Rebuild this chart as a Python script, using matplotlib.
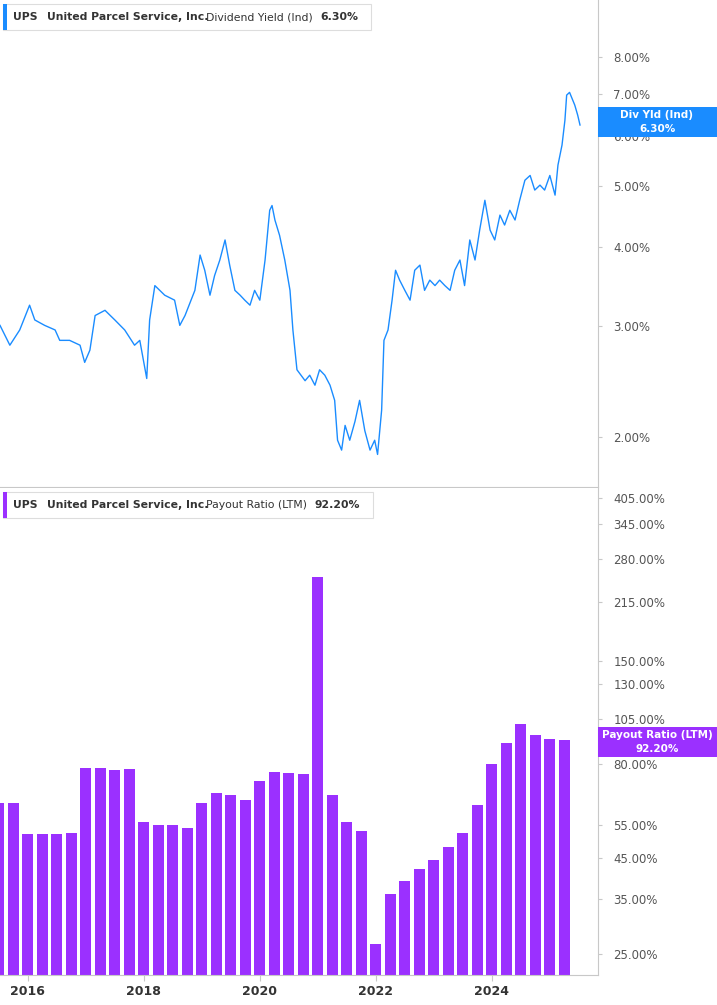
import matplotlib
matplotlib.use("Agg")
import matplotlib.pyplot as plt
from matplotlib.patches import Rectangle
from matplotlib.ticker import FixedLocator, NullLocator, NullFormatter

# dividend yield (%)
yield_years = [2015.52, 2015.69, 2015.86, 2016.03, 2016.12, 2016.29, 2016.47, 2016.55, 2016.72, 2016.90,
               2016.98, 2017.07, 2017.16, 2017.33, 2017.50, 2017.67, 2017.84, 2017.93, 2018.05, 2018.10,
               2018.19, 2018.36, 2018.53, 2018.62, 2018.71, 2018.88, 2018.97, 2019.05, 2019.14, 2019.22,
               2019.31, 2019.40, 2019.48, 2019.57, 2019.66, 2019.74, 2019.83, 2019.91, 2020.00, 2020.09,
               2020.17, 2020.21, 2020.26, 2020.34, 2020.43, 2020.52, 2020.57, 2020.64, 2020.78, 2020.86,
               2020.95, 2021.03, 2021.12, 2021.21, 2021.29, 2021.34, 2021.41, 2021.47, 2021.55, 2021.64,
               2021.72, 2021.81, 2021.90, 2021.98, 2022.03, 2022.10, 2022.14, 2022.21, 2022.28, 2022.34,
               2022.41, 2022.50, 2022.59, 2022.67, 2022.76, 2022.84, 2022.93, 2023.02, 2023.10, 2023.19,
               2023.28, 2023.36, 2023.45, 2023.53, 2023.62, 2023.71, 2023.79, 2023.88, 2023.97, 2024.05,
               2024.14, 2024.22, 2024.31, 2024.40, 2024.48, 2024.57, 2024.66, 2024.74, 2024.83, 2024.91,
               2025.00, 2025.09, 2025.14, 2025.21, 2025.26, 2025.29, 2025.34, 2025.43, 2025.48, 2025.52]
yield_vals = [3.01, 2.80, 2.96, 3.24, 3.07, 3.01, 2.96, 2.85, 2.85, 2.80,
              2.63, 2.75, 3.12, 3.18, 3.07, 2.96, 2.80, 2.85, 2.48, 3.07,
              3.48, 3.36, 3.30, 3.01, 3.12, 3.42, 3.89, 3.68, 3.36, 3.61,
              3.82, 4.11, 3.75, 3.42, 3.36, 3.30, 3.24, 3.42, 3.30, 3.82,
              4.58, 4.66, 4.42, 4.18, 3.82, 3.42, 2.96, 2.56, 2.46, 2.51,
              2.42, 2.56, 2.51, 2.42, 2.29, 1.98, 1.91, 2.09, 1.98, 2.12,
              2.29, 2.05, 1.91, 1.98, 1.88, 2.21, 2.85, 2.96, 3.30, 3.68,
              3.55, 3.42, 3.30, 3.68, 3.75, 3.42, 3.55, 3.48, 3.55, 3.48,
              3.42, 3.68, 3.82, 3.48, 4.11, 3.82, 4.26, 4.75, 4.26, 4.11,
              4.50, 4.34, 4.58, 4.42, 4.75, 5.11, 5.20, 4.93, 5.02, 4.93,
              5.20, 4.84, 5.40, 5.81, 6.36, 6.97, 7.04, 6.72, 6.48, 6.25]

# payout ratio (%), quarterly bars
bar_years = [2015.50 + 0.25 * i for i in range(40)]
payout_vals = [63, 63, 52, 52, 52, 52.5, 78, 78, 77, 77.5,
               56, 55, 55, 54, 63, 67, 66, 64, 72, 76,
               75.5, 75, 250, 66, 56, 53, 26.5, 36, 39, 42,
               44.5, 48, 52.5, 62, 80, 91, 102, 95, 93, 92.2]

yield_ticks = [2, 3, 4, 5, 6, 7, 8]
payout_ticks = [25, 35, 45, 55, 80, 105, 130, 150, 215, 280, 345, 405]
year_ticks = [2016, 2018, 2020, 2022, 2024]

BLUE = "#1a8cff"
PURPLE = "#9b30ff"
GRID = "#c8c8c8"
TXT = "#333333"

fig = plt.figure(figsize=(7.17, 10.05), dpi=100)
ax1 = fig.add_axes([0, 0.5155, 0.834, 0.4845])
ax2 = fig.add_axes([0, 0.0299, 0.834, 0.4846])

for ax in (ax1, ax2):
    ax.set_xlim(2015.52, 2025.83)
    ax.set_yscale("log")
    ax.yaxis.tick_right()
    ax.yaxis.set_minor_locator(NullLocator())
    ax.yaxis.set_minor_formatter(NullFormatter())
    ax.tick_params(axis="y", length=3, color=GRID, labelsize=8.5, labelcolor="#555555", pad=8)
    for s in ("left", "top"):
        ax.spines[s].set_visible(False)
    ax.spines["right"].set_color(GRID)
    ax.spines["bottom"].set_color(GRID)

ax1.plot(yield_years, yield_vals, color=BLUE, lw=1.0)
ax1.set_ylim(1.67, 9.86)
ax1.yaxis.set_major_locator(FixedLocator(yield_ticks))
ax1.set_yticklabels(["%.2f%%" % t for t in yield_ticks])
ax1.set_xticks([])

ax2.bar(bar_years, payout_vals, width=0.19, color=PURPLE)
ax2.set_ylim(22.0, 431)
ax2.yaxis.set_major_locator(FixedLocator(payout_ticks))
ax2.set_yticklabels(["%.2f%%" % t for t in payout_ticks])
ax2.set_xticks(year_ticks)
ax2.set_xticklabels([str(y) for y in year_ticks])
ax2.tick_params(axis="x", length=4, color=GRID, labelsize=9, labelcolor=TXT)
for lab in ax2.get_xticklabels():
    lab.set_fontweight("bold")


def legend_box(y_px, color, label, value, width_px):
    y = 1 - y_px / 1005
    h = 26 / 1005
    fig.patches.append(Rectangle((3 / 717, y - h / 2), width_px / 717, h, transform=fig.transFigure,
                                 facecolor="white", edgecolor="#dddddd", lw=0.8))
    fig.patches.append(Rectangle((3 / 717, y - h / 2), 4 / 717, h, transform=fig.transFigure,
                                 facecolor=color, edgecolor="none"))
    fig.text(13 / 717, y, "UPS", fontsize=7.8, fontweight="bold", color=TXT, va="center")
    fig.text(47 / 717, y, "United Parcel Service, Inc.", fontsize=7.8, fontweight="bold", color=TXT, va="center")
    fig.text(206 / 717, y, label, fontsize=7.8, color=TXT, va="center")
    fig.text((width_px - 10) / 717, y, value, fontsize=7.8, fontweight="bold", color=TXT, va="center", ha="right")


legend_box(17, BLUE, "Dividend Yield (Ind)", "6.30%", 368)
legend_box(505, PURPLE, "Payout Ratio (LTM)", "92.20%", 370)


def value_tag(y_px, color, label, value):
    y = 1 - y_px / 1005
    h = 30 / 1005
    fig.patches.append(Rectangle((598 / 717, y - h / 2), 119 / 717, h, transform=fig.transFigure,
                                 facecolor=color, edgecolor="none"))
    fig.text(657 / 717, y + 0.0065, label, fontsize=7.5, fontweight="bold", color="white", ha="center", va="center")
    fig.text(657 / 717, y - 0.0065, value, fontsize=7.5, fontweight="bold", color="white", ha="center", va="center")


value_tag(122, BLUE, "Div Yld (Ind)", "6.30%")
value_tag(742, PURPLE, "Payout Ratio (LTM)", "92.20%")

fig.savefig("out.png", dpi=100)
